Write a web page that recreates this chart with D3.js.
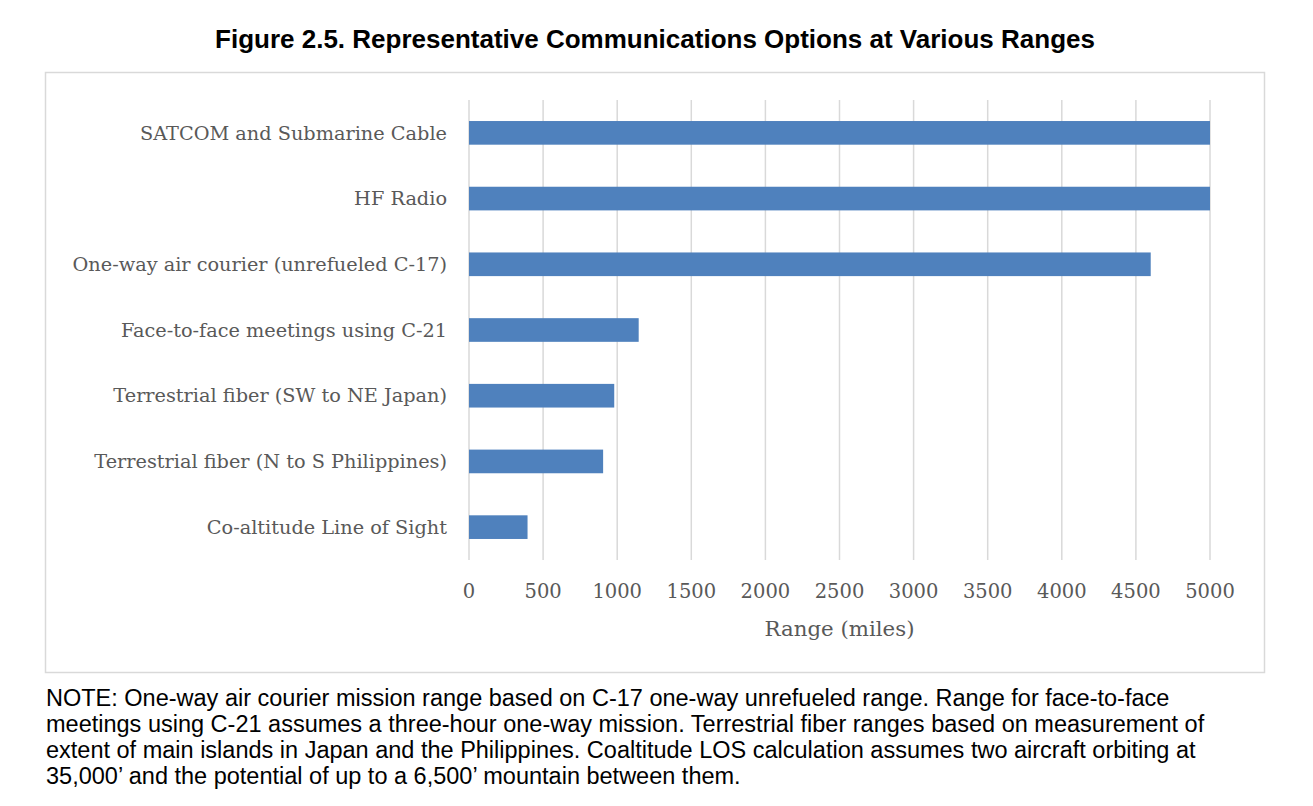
<!DOCTYPE html>
<html lang='en'>
<head>
<meta charset=utf-8>
<title>Representative Communications Options</title>
<script src="https://cdn.jsdelivr.net/npm/d3@7"></script>
<style>
	body { margin: 0; background: white; }
	.cat text, .xax text { fill: #595959; font-family: "DejaVu Serif", serif; }
</style>
</head>
<body>
<svg id='chart' width="1313" height="806"></svg>
<script>
// data
var categories = ["SATCOM and Submarine Cable", "HF Radio", "One-way air courier (unrefueled C-17)",
	"Face-to-face meetings using C-21", "Terrestrial fiber (SW to NE Japan)",
	"Terrestrial fiber (N to S Philippines)", "Co-altitude Line of Sight"];
var ranges = [5000, 5000, 4600, 1145, 980, 905, 395];
var xticks = [0, 500, 1000, 1500, 2000, 2500, 3000, 3500, 4000, 4500, 5000];
var noteLines = [
	"NOTE: One-way air courier mission range based on C-17 one-way unrefueled range. Range for face-to-face",
	"meetings using C-21 assumes a three-hour one-way mission. Terrestrial fiber ranges based on measurement of",
	"extent of main islands in Japan and the Philippines. Coaltitude LOS calculation assumes two aircraft orbiting at",
	"35,000\u2019 and the potential of up to a 6,500\u2019 mountain between them."
];

var svg = d3.select('#chart');

// title
svg.append('text').attr('x', 655).attr('y', 48).attr('text-anchor', 'middle')
	.style('font-family', '"Liberation Sans", Arial, sans-serif').style('font-weight', 'bold')
	.style('font-size', '26px').attr('fill', '#000')
	.text("Figure 2.5. Representative Communications Options at Various Ranges");

// chart frame
svg.append('rect').attr('x', 45.5).attr('y', 72.5).attr('width', 1219).attr('height', 600)
	.attr('fill', 'white').attr('stroke', '#d9d9d9').attr('stroke-width', 1.5);

var x = d3.scaleLinear().domain([0, 5000]).range([469, 1210]);
var y = d3.scaleBand().domain(categories).range([100, 560]).paddingInner(0.64).paddingOuter(0.32);

// gridlines
svg.append('g').selectAll('line').data(xticks).join('line')
	.attr('x1', d => x(d)).attr('x2', d => x(d)).attr('y1', 100).attr('y2', 560)
	.attr('stroke', '#d9d9d9').attr('stroke-width', 1.5);

// bars
svg.append('g').selectAll('rect').data(categories).join('rect')
	.attr('x', x(0)).attr('y', d => y(d))
	.attr('width', (d, i) => x(ranges[i]) - x(0)).attr('height', y.bandwidth())
	.attr('fill', '#4f81bd');

// category labels
svg.append('g').attr('class', 'cat').selectAll('text').data(categories).join('text')
	.attr('x', 447).attr('y', d => y(d) + y.bandwidth() / 2).attr('dy', '0.35em')
	.attr('text-anchor', 'end').style('font-size', '19.3px').text(d => d);

// x tick labels
var xax = svg.append('g').attr('class', 'xax');
xax.selectAll('text.tick').data(xticks).join('text').attr('class', 'tick')
	.attr('x', d => x(d)).attr('y', 598).attr('text-anchor', 'middle')
	.style('font-size', '19.5px').text(d => d);
xax.append('text').attr('x', (x(0) + x(5000)) / 2).attr('y', 636).attr('text-anchor', 'middle')
	.style('font-size', '21.3px').text("Range (miles)");

// note
svg.append('g').selectAll('text').data(noteLines).join('text')
	.attr('x', 46).attr('y', (d, i) => 706 + i * 26)
	.style('font-family', '"Liberation Sans", Arial, sans-serif').style('font-size', '23.5px')
	.attr('fill', '#000').text(d => d);
</script>
</body>
</html>
